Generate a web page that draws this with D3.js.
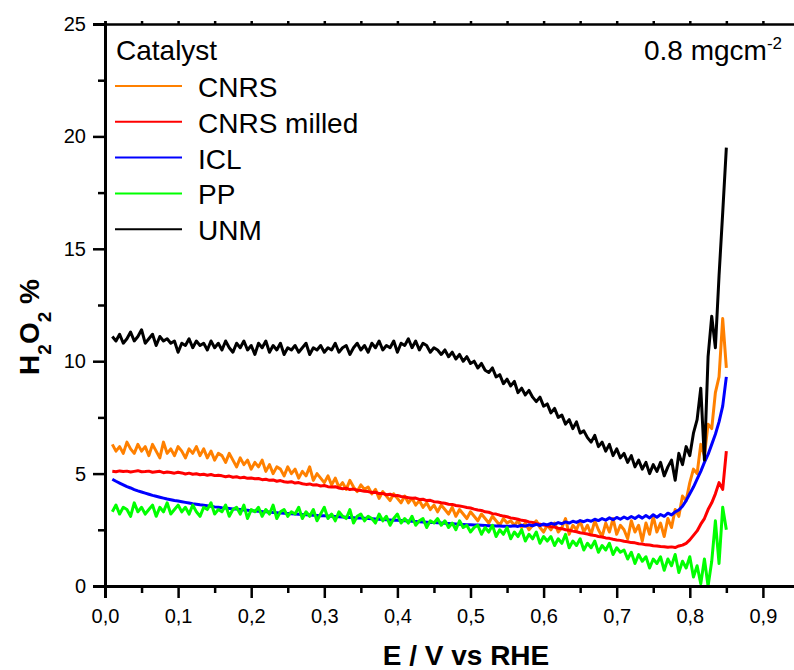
<!DOCTYPE html>
<html>
<head>
<meta charset="utf-8">
<script src="https://cdn.jsdelivr.net/npm/d3@7"></script>
<style>
  body { margin: 0; background: #fff; }
  svg { display: block; font-family: "Liberation Sans", Arial, sans-serif; }
</style>
</head>
<body>
<div id="chart"></div>
<script>
// potential grid: 0.010 ... 0.850 V, step 0.005 V
const eStart = 0.01, eStep = 0.005;

const catalysts = ["CNRS", "CNRS milled", "ICL", "PP", "UNM"];
const colors = ["#ff8000", "#ff0000", "#0000ff", "#00ff00", "#000000"];

const cnrs = [
  6.3, 6.0, 6.2, 5.9, 6.4, 6.1, 5.9, 6.3, 6.0, 6.2,
  5.8, 6.3, 6.0, 5.7, 6.4, 5.9, 6.1, 5.8, 6.2, 6.0,
  5.7, 6.1, 5.9, 6.2, 5.8, 6.1, 5.7, 6.0, 5.6, 5.9,
  5.8, 5.5, 5.9, 5.6, 5.3, 5.7, 5.4, 5.6, 5.2, 5.5,
  5.3, 5.6, 5.1, 5.4, 5.0, 5.3, 5.2, 4.9, 5.3, 5.0,
  5.2, 4.8, 5.1, 4.9, 5.3, 4.7, 5.0, 4.8, 4.6, 4.9,
  4.5, 4.8, 4.4, 4.6, 4.3, 4.7, 4.4, 4.2, 4.5, 4.3,
  4.4, 4.1, 4.3, 3.9, 4.2, 4.0, 3.8, 4.1, 3.9, 3.7,
  4.0, 3.7, 3.9, 3.6, 3.8, 3.5, 3.7, 3.4, 3.6, 3.3,
  3.6, 3.4, 3.2, 3.5, 3.1, 3.4, 3.2, 3.0, 3.3, 3.1,
  2.9, 3.2, 3.0, 2.8, 3.1, 2.9, 2.7, 3.0, 2.8, 2.9,
  2.7, 2.9, 2.6, 2.8, 2.5, 2.7, 2.9, 2.6, 2.4, 2.7,
  2.5, 2.8, 2.4, 2.6, 3.0, 2.3, 2.7, 2.5, 2.9, 2.4,
  2.7, 2.3, 2.9, 2.5, 2.2, 2.8, 2.4, 3.0, 2.3, 2.7,
  2.5, 2.1, 2.9, 2.4, 2.7, 2.0, 2.8, 2.3, 3.1, 2.4,
  2.8, 2.2, 3.0, 2.6, 3.4, 3.1, 4.0, 3.8, 4.6, 5.2,
  5.0, 6.3, 5.8, 7.2, 7.0, 8.6, 9.3, 11.9, 9.7
];

const cnrsMilled = [
  5.10, 5.08, 5.12, 5.09, 5.11, 5.07, 5.10, 5.13, 5.08, 5.09,
  5.11, 5.06, 5.08, 5.10, 5.04, 5.07, 5.05, 5.02, 5.06, 5.03,
  4.98, 5.02, 4.97, 4.99, 4.95, 4.97, 4.93, 4.96, 4.91, 4.93,
  4.90, 4.86, 4.89, 4.84, 4.86, 4.81, 4.84, 4.79, 4.80, 4.77,
  4.78, 4.73, 4.75, 4.70, 4.72, 4.66, 4.69, 4.64, 4.62, 4.64,
  4.58, 4.60, 4.55, 4.52, 4.54, 4.49, 4.50, 4.45, 4.47, 4.42,
  4.40, 4.42, 4.36, 4.33, 4.35, 4.29, 4.31, 4.26, 4.25, 4.21,
  4.20, 4.16, 4.17, 4.11, 4.12, 4.06, 4.08, 4.02, 4.03, 3.98,
  3.96, 3.93, 3.90, 3.91, 3.85, 3.86, 3.80, 3.81, 3.75, 3.74,
  3.70, 3.68, 3.64, 3.63, 3.58, 3.56, 3.53, 3.49, 3.47, 3.42,
  3.38, 3.36, 3.30, 3.28, 3.22, 3.20, 3.15, 3.11, 3.08, 3.03,
  3.00, 2.97, 2.92, 2.90, 2.85, 2.83, 2.77, 2.75, 2.71, 2.68,
  2.64, 2.62, 2.57, 2.55, 2.50, 2.48, 2.44, 2.41, 2.37, 2.34,
  2.31, 2.27, 2.25, 2.20, 2.18, 2.14, 2.12, 2.08, 2.05, 2.03,
  1.99, 1.97, 1.93, 1.92, 1.88, 1.87, 1.83, 1.82, 1.79, 1.78,
  1.76, 1.75, 1.72, 1.74, 1.71, 1.78, 1.82, 1.90, 2.05, 2.25,
  2.45, 2.75, 3.00, 3.40, 3.70, 4.10, 4.60, 4.30, 6.00
];

const icl = [
  4.75, 4.66, 4.58, 4.50, 4.42, 4.36, 4.29, 4.23, 4.18, 4.13,
  4.08, 4.03, 3.99, 3.95, 3.91, 3.87, 3.84, 3.80, 3.78, 3.75,
  3.72, 3.69, 3.66, 3.64, 3.61, 3.59, 3.57, 3.55, 3.52, 3.50,
  3.48, 3.47, 3.45, 3.43, 3.42, 3.40, 3.38, 3.37, 3.35, 3.34,
  3.33, 3.31, 3.30, 3.29, 3.27, 3.26, 3.25, 3.24, 3.23, 3.21,
  3.20, 3.19, 3.18, 3.17, 3.16, 3.15, 3.14, 3.13, 3.12, 3.11,
  3.10, 3.09, 3.08, 3.07, 3.06, 3.05, 3.04, 3.03, 3.02, 3.01,
  3.00, 2.99, 2.98, 2.97, 2.96, 2.95, 2.94, 2.93, 2.92, 2.91,
  2.90, 2.89, 2.88, 2.87, 2.86, 2.85, 2.84, 2.83, 2.82, 2.81,
  2.80, 2.79, 2.78, 2.77, 2.76, 2.75, 2.74, 2.73, 2.72, 2.71,
  2.71, 2.70, 2.69, 2.68, 2.68, 2.67, 2.67, 2.66, 2.66, 2.66,
  2.68, 2.65, 2.70, 2.66, 2.72, 2.68, 2.74, 2.69, 2.76, 2.72,
  2.79, 2.74, 2.82, 2.77, 2.85, 2.80, 2.88, 2.83, 2.91, 2.86,
  2.93, 2.88, 2.97, 2.91, 3.00, 2.93, 3.03, 2.95, 3.05, 2.97,
  3.07, 2.99, 3.09, 3.00, 3.12, 3.02, 3.14, 3.03, 3.17, 3.06,
  3.18, 3.10, 3.24, 3.16, 3.30, 3.38, 3.55, 3.80, 4.10, 4.40,
  4.75, 5.10, 5.50, 5.85, 6.30, 6.75, 7.30, 8.00, 9.30
];

const pp = [
  3.3, 3.6, 3.2, 3.5, 3.4, 3.1, 3.7, 3.3, 3.5, 3.2,
  3.4, 3.6, 3.1, 3.5, 3.3, 3.7, 3.2, 3.4, 3.6, 3.3,
  3.5, 3.2, 3.6, 3.3, 3.1, 3.5, 3.4, 3.7, 3.2, 3.4,
  3.3, 3.6, 3.1, 3.4, 3.5, 3.2, 3.6, 3.0, 3.4, 3.3,
  3.5, 3.1, 3.4, 3.2, 3.6, 3.0, 3.3, 3.4, 3.1, 3.3,
  3.2, 3.5, 3.0, 3.3, 3.1, 3.4, 2.9, 3.2, 3.5, 3.0,
  3.2, 2.9, 3.3, 3.1, 3.0, 3.4, 2.8, 3.1, 3.2, 2.9,
  3.1, 3.0, 2.8, 3.2, 2.9, 3.1, 2.7, 3.0, 3.2, 2.8,
  3.0, 2.8, 3.1, 2.7, 2.9, 3.0, 2.6, 2.9, 2.8, 3.0,
  2.7, 2.9, 2.6, 2.8, 2.5, 2.9, 2.6, 2.7, 2.4, 2.6,
  2.7, 2.3, 2.6, 2.4, 2.7, 2.2, 2.5, 2.3, 2.6, 2.1,
  2.4, 2.2, 2.5, 2.0, 2.3, 2.1, 2.4, 1.9, 2.2, 2.0,
  2.2, 1.8, 2.1, 1.9, 2.3, 1.7, 2.0, 1.8, 2.1, 1.6,
  1.9, 1.7, 2.0, 1.5, 1.8, 1.6, 1.9, 1.4, 1.7, 1.5,
  1.6, 1.2, 1.5, 1.0, 1.4, 1.1, 1.3, 0.8, 1.2, 1.0,
  1.3, 0.7, 1.2, 0.9, 1.4, 0.6, 1.1, 0.8, 1.3, 0.4,
  0.9, 0.1, 1.2, 0.0, 1.1, 2.9, 1.0, 3.5, 2.5
];

const unm = [
  11.1, 10.9, 11.2, 10.8, 11.0, 11.3, 10.9, 11.1, 11.4, 10.8,
  11.0, 11.2, 10.7, 11.1, 10.9, 11.0, 10.8, 10.9, 10.4, 10.8,
  10.7, 11.0, 10.6, 10.9, 10.7, 10.8, 10.5, 10.9, 10.6, 10.8,
  10.5, 10.9, 10.6, 10.4, 10.8, 10.6, 10.9, 10.5, 10.7, 10.3,
  10.8, 10.6, 10.9, 10.4, 10.7, 10.5, 10.8, 10.3, 10.6, 10.5,
  10.7, 10.4, 10.6, 10.8, 10.3, 10.6, 10.5, 10.7, 10.4, 10.6,
  10.5, 10.8, 10.4, 10.6, 10.7, 10.3, 10.6, 10.8, 10.5, 10.7,
  10.4, 10.8, 10.6, 10.9, 10.5, 10.7, 10.6, 10.9, 10.4, 10.8,
  10.7, 11.0, 10.6, 10.9, 10.5, 10.8, 10.7, 10.4, 10.6, 10.5,
  10.3, 10.5, 10.2, 10.4, 10.1, 10.3, 10.0, 10.2, 9.9, 10.0,
  9.7, 9.9, 9.6, 9.5, 9.7, 9.3, 9.4, 9.0, 9.2, 8.9,
  9.1, 8.6, 8.8, 8.5, 8.7, 8.4, 8.2, 8.4, 8.0, 8.1,
  7.7, 7.9, 7.5, 7.6, 7.2, 7.4, 7.0, 7.3, 6.8, 6.9,
  6.6, 6.4, 6.7, 6.2, 6.4, 6.0, 6.3, 5.8, 6.1, 5.7,
  5.9, 5.5, 5.8, 5.3, 5.6, 5.2, 5.5, 5.0, 5.4, 5.1,
  5.5, 4.9, 5.3, 5.6, 4.7, 5.9, 5.4, 6.2, 5.8, 6.8,
  7.4, 8.8, 5.6, 10.2, 12.0, 10.6, 13.8, 16.6, 19.5
];

const seriesValues = [cnrs, cnrsMilled, icl, pp, unm];

const xTicks = [0, 0.1, 0.2, 0.3, 0.4, 0.5, 0.6, 0.7, 0.8, 0.9];
const xMinor = [0.05, 0.15, 0.25, 0.35, 0.45, 0.55, 0.65, 0.75, 0.85];
const yTicks = [0, 5, 10, 15, 20, 25];
const yMinor = [2.5, 7.5, 12.5, 17.5, 22.5];

const width = 794, height = 670;

const svg = d3.select("#chart")
  .append("svg")
    .attr("width", width)
    .attr("height", height);

const x = d3.scaleLinear().domain([0, 0.95]).range([105, 105 + 731 * 0.95]);
const y = d3.scaleLinear().domain([0, 25]).range([586, 24]);

// curves
const line = d3.line()
  .x((d, i) => x(eStart + eStep * i))
  .y(d => y(d));

svg.append("g")
  .selectAll("path")
  .data(seriesValues)
  .enter()
  .append("path")
    .attr("d", d => line(d))
    .attr("fill", "none")
    .attr("stroke", (d, i) => colors[i])
    .attr("stroke-width", 3)
    .attr("stroke-linejoin", "round");

// axes
const axisColor = "#000";

const xAxis = svg.append("g").attr("transform", `translate(0,${y(0)})`);
xAxis.call(d3.axisBottom(x).tickValues(xTicks).tickSize(12).tickPadding(6)
  .tickFormat(d => d3.format(".1f")(d).replace(".", ",")));
xAxis.append("g").call(d3.axisBottom(x).tickValues(xMinor).tickSize(7).tickFormat(""));

const yAxis = svg.append("g").attr("transform", `translate(${x(0)},0)`);
yAxis.call(d3.axisLeft(y).tickValues(yTicks).tickSize(12).tickPadding(7));
yAxis.append("g").call(d3.axisLeft(y).tickValues(yMinor).tickSize(7).tickFormat(""));

const topAxis = svg.append("g").attr("transform", `translate(0,${y(25)})`);
topAxis.call(d3.axisTop(x).tickValues(xTicks.concat(xMinor)).tickSize(3).tickFormat(""));

svg.selectAll(".domain")
  .attr("stroke", axisColor)
  .attr("stroke-width", 3);
topAxis.select(".domain").attr("stroke-width", 2.5);
svg.selectAll(".tick line")
  .attr("stroke", axisColor)
  .attr("stroke-width", 2.5);
svg.selectAll(".tick text")
  .attr("fill", "#000")
  .style("font-size", "20px")
  .style("font-family", "'Liberation Sans', Arial, sans-serif");
xAxis.selectAll(".tick text").attr("dy", "0.95em");

// axis titles
svg.append("text")
  .attr("x", 466)
  .attr("y", 665)
  .attr("text-anchor", "middle")
  .style("font-size", "28px")
  .style("font-weight", "bold")
  .text("E / V vs RHE");

const yTitle = svg.append("text")
  .attr("transform", "translate(39,327) rotate(-90)")
  .attr("text-anchor", "middle")
  .style("font-size", "28px")
  .style("font-weight", "bold");
yTitle.append("tspan").text("H");
yTitle.append("tspan").attr("dy", 12).style("font-size", "19px").text("2");
yTitle.append("tspan").attr("dy", -12).text("O");
yTitle.append("tspan").attr("dy", 12).style("font-size", "19px").text("2");
yTitle.append("tspan").attr("dy", -12).text(" %");

// legend
const legend = svg.append("g");
legend.append("text")
  .attr("x", 116)
  .attr("y", 60)
  .style("font-size", "28px")
  .text("Catalyst");

const rows = legend.selectAll(".legend-item")
  .data(catalysts)
  .enter()
  .append("g")
    .attr("class", "legend-item")
    .attr("transform", (d, i) => `translate(0,${86 + i * 35.8})`);

rows.append("line")
  .attr("x1", 115)
  .attr("x2", 182)
  .attr("stroke", (d, i) => colors[i])
  .attr("stroke-width", 2);

rows.append("text")
  .attr("x", 198)
  .attr("y", 11)
  .style("font-size", "28px")
  .text(d => d);

const loading = svg.append("text")
  .attr("x", 644)
  .attr("y", 60)
  .style("font-size", "28px");
loading.append("tspan").text("0.8 mgcm");
loading.append("tspan").attr("dy", -11).style("font-size", "17px").text("-2");
</script>
</body>
</html>
